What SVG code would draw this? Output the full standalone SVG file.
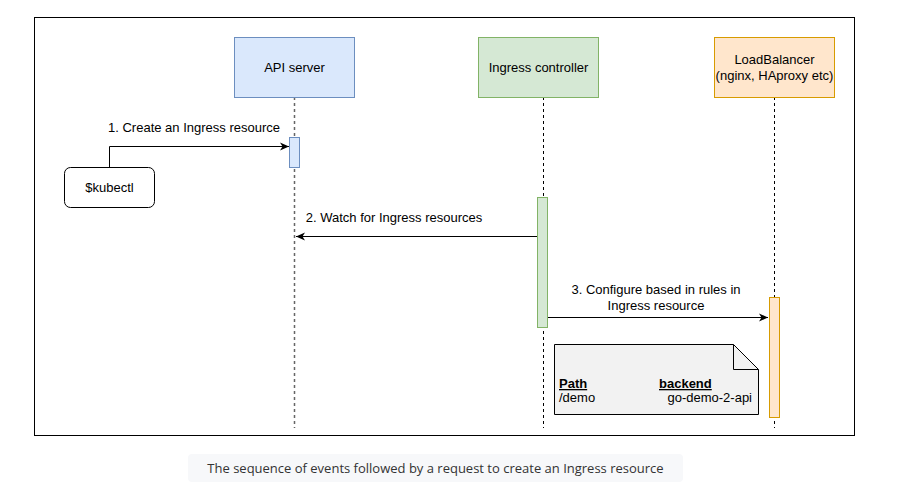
<svg xmlns="http://www.w3.org/2000/svg" width="907" height="485" viewBox="0 0 907 485">
<style>
text{font-family:"Liberation Sans",Arial,sans-serif;font-size:13px;fill:#000}
.life{stroke:#000;stroke-width:1;stroke-dasharray:3 3;fill:none}
.lifeg{stroke:#666;stroke-width:1.5;stroke-dasharray:3 3;fill:none}
.msg{stroke:#000;stroke-width:1;fill:none}
.cap{font-family:"Open Sans","Noto Sans",sans-serif;font-size:13px;fill:#333}
</style>
<defs>
<marker id="ah" markerWidth="10" markerHeight="10" refX="9" refY="5" orient="auto" markerUnits="userSpaceOnUse">
<path d="M0,1 L9,5 L0,9 L2.5,5 Z" fill="#000"/>
</marker>
</defs>
<rect width="907" height="485" fill="#fff"/>
<rect x="34.5" y="17.5" width="820" height="418" fill="#fff" stroke="#000" stroke-width="1"/>
<g id="lifelines">
<line class="lifeg" x1="294.5" y1="97" x2="294.5" y2="428"/>
<line class="life" x1="543.5" y1="97" x2="543.5" y2="428"/>
<line class="life" x1="774.5" y1="97" x2="774.5" y2="428"/>
</g>
<g id="api-server">
<rect x="234.5" y="37.5" width="120" height="60" fill="#dae8fc" stroke="#6c8ebf"/>
<text x="294.5" y="72" text-anchor="middle">API server</text>
</g>
<g id="ingress-controller">
<rect x="478.5" y="37.5" width="120" height="60" fill="#d5e8d4" stroke="#82b366"/>
<text x="538.5" y="72" text-anchor="middle">Ingress controller</text>
</g>
<g id="loadbalancer">
<rect x="714.5" y="37.5" width="120" height="60" fill="#ffe6cc" stroke="#d79b00"/>
<text x="774.5" y="64" text-anchor="middle">LoadBalancer</text>
<text x="774.5" y="80" text-anchor="middle">(nginx, HAproxy etc)</text>
</g>
<g id="kubectl">
<rect x="64.5" y="167.5" width="90" height="40" rx="6" fill="#fff" stroke="#000"/>
<text x="109.5" y="192" text-anchor="middle">$kubectl</text>
</g>
<g id="api-activation">
<rect x="289.5" y="137.5" width="10" height="30" fill="#dae8fc" stroke="#6c8ebf"/>
</g>
<g id="ingress-activation">
<rect x="537.5" y="197.5" width="10" height="130" fill="#d5e8d4" stroke="#82b366"/>
</g>
<g id="lb-activation">
<rect x="769.5" y="297.5" width="10" height="120" fill="#ffe6cc" stroke="#d79b00"/>
</g>
<g id="connectors">
<path class="msg" d="M109.5,167 V146.5 H289" marker-end="url(#ah)"/>
<text x="194" y="132" text-anchor="middle">1. Create an Ingress resource</text>
<path class="msg" d="M537,236.5 H296" marker-end="url(#ah)"/>
<text x="394" y="222" text-anchor="middle">2. Watch for Ingress resources</text>
<path class="msg" d="M548,317.5 H768" marker-end="url(#ah)"/>
<text x="656" y="294" text-anchor="middle">3. Configure based in rules in</text>
<text x="656" y="310" text-anchor="middle">Ingress resource</text>
</g>
<g id="note">
<path d="M554.5,344.5 H733.5 L758.5,369.5 V414.5 H554.5 Z" fill="#f2f2f2" stroke="#000"/>
<path d="M733.5,344.5 V369.5 H758.5" fill="none" stroke="#000"/>
<text x="559" y="388" font-weight="bold" text-decoration="underline">Path</text>
<text x="659" y="388" font-weight="bold" text-decoration="underline">backend</text>
<text x="559" y="402">/demo</text>
<text x="752" y="402" text-anchor="end">go-demo-2-api</text>
</g>
<g id="caption">
<rect x="188" y="454" width="495" height="28" rx="4" fill="#f7f8fa"/>
<text class="cap" x="435.5" y="472.5" text-anchor="middle">The sequence of events followed by a request to create an Ingress resource</text>
</g>
</svg>
